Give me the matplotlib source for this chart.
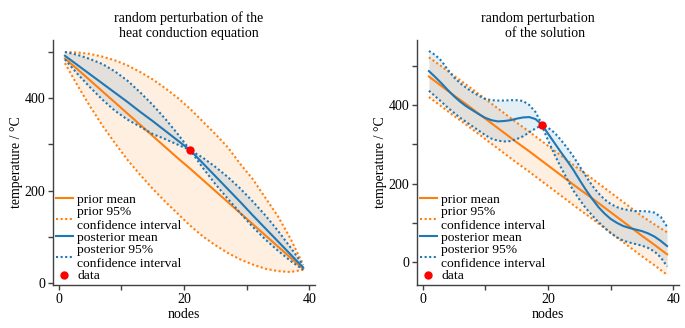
import matplotlib
matplotlib.use("Agg")
import matplotlib.pyplot as plt
from matplotlib.ticker import MultipleLocator

plt.rcParams['font.family'] = ['Liberation Serif', 'DejaVu Serif']
plt.rcParams['font.size'] = 10

nodes = [1, 3, 5, 7, 9, 11, 13, 15, 17, 19, 21, 23, 25, 27, 29, 31, 33, 35, 37, 39]
nodes_all = list(range(1, 40))

# --- random perturbation of the heat conduction equation ---
eq_prior_mean = [485, 462, 438, 414, 390, 366, 342, 318, 294, 270,
                 247, 223, 199, 175, 151, 127, 103, 79, 55, 31]
eq_prior_upper = [499, 498, 495, 489, 481, 470, 456, 440, 421, 400,
                  376, 349, 322, 293, 257, 224, 184, 144, 96, 40]
eq_prior_lower = [475, 427, 382, 340, 302, 266, 234, 204, 176, 150,
                  124, 101, 82, 65, 51, 40, 31, 26, 24, 29]
eq_post_mean = [491, 471, 451, 431, 411, 391, 370, 350, 329, 308,
                287, 259, 231, 203, 175, 146, 118, 90, 62, 34]
eq_post_upper = [499, 493, 484, 473, 457, 437, 412, 385, 355, 322,
                 287, 271, 251, 229, 204, 176, 146, 113, 77, 39]
eq_post_lower = [483, 452, 423, 396, 372, 353, 338, 322, 311, 299,
                 287, 249, 214, 182, 151, 121, 94, 70, 48, 29]
eq_data_x = [21]
eq_data_y = [287]

# --- random perturbation of the solution ---
sol_prior_mean = [472, 448, 424, 401, 377, 353, 329, 305, 282, 258,
                  234, 210, 186, 163, 139, 115, 91, 67, 44, 20]
sol_prior_upper = [521, 498, 474, 451, 427, 403, 379, 355, 332, 308,
                   284, 260, 236, 213, 189, 165, 141, 117, 96, 76]
sol_prior_lower = [420, 396, 372, 349, 325, 301, 277, 253, 230, 206,
                   182, 158, 134, 111, 87, 63, 39, 15, -8, -32]
sol_post_mean = [486, 471, 455, 438, 422, 408, 396, 386, 376, 367,
                 361, 358, 359, 361, 365, 368, 369, 364, 350, 327,
                 304, 281, 259, 236, 210, 185, 162, 141, 124, 110,
                 100, 92, 87, 83, 79, 73, 65, 54, 41]
sol_post_upper = [537, 527, 512, 490, 470, 455, 443, 432, 423, 415,
                  412, 411, 411, 412, 412, 410, 400, 382, 352, 342,
                  330, 312, 292, 270, 245, 220, 196, 176, 160, 148,
                  140, 135, 132, 130, 130, 129, 126, 115, 90]
sol_post_lower = [436, 422, 408, 393, 380, 367, 356, 345, 334, 323,
                  314, 309, 307, 308, 313, 320, 330, 340, 348, 310,
                  275, 243, 213, 183, 160, 138, 120, 103, 88, 74,
                  63, 55, 50, 46, 42, 36, 27, 12, -11]
sol_data_x = [19]
sol_data_y = [350]

ORANGE = '#ff7f0e'
BLUE = '#1f77b4'
DOT = (0, (1, 1.2))

fig = plt.figure(figsize=(6.85, 3.28), dpi=100)
ax1 = fig.add_axes([53 / 685, 43 / 328, 262 / 685, 245 / 328])
ax2 = fig.add_axes([417 / 685, 43 / 328, 262 / 685, 245 / 328])


def draw(ax, xp, pm, pu, pl, xq, qm, qu, ql, dx, dy):
    ax.fill_between(xp, pl, pu, color=ORANGE, alpha=0.12, lw=0)
    ax.fill_between(xq, ql, qu, color=BLUE, alpha=0.12, lw=0)
    ax.plot(xp, pm, color=ORANGE, lw=1.5, label='prior mean')
    ax.plot(xp, pu, color=ORANGE, lw=1.5, ls=DOT,
            label='prior 95%\nconfidence interval')
    ax.plot(xp, pl, color=ORANGE, lw=1.5, ls=DOT)
    ax.plot(xq, qm, color=BLUE, lw=1.5, label='posterior mean')
    ax.plot(xq, qu, color=BLUE, lw=1.5, ls=DOT,
            label='posterior 95%\nconfidence interval')
    ax.plot(xq, ql, color=BLUE, lw=1.5, ls=DOT)
    ax.plot(dx, dy, 'o', color='red', ms=5, ls='none', label='data',
            zorder=5)

    for s in ('top', 'right'):
        ax.spines[s].set_visible(False)
    for s in ('left', 'bottom'):
        ax.spines[s].set_color('0.25')
        ax.spines[s].set_linewidth(1.0)
    ax.xaxis.set_major_locator(MultipleLocator(20))
    ax.xaxis.set_minor_locator(MultipleLocator(10))
    ax.yaxis.set_major_locator(MultipleLocator(200))
    ax.yaxis.set_minor_locator(MultipleLocator(100))
    ax.tick_params(which='both', length=3.5, width=1, color='0.25',
                   labelsize=10, pad=2)
    ax.set_xlabel('nodes', labelpad=1.5)
    ax.set_ylabel('temperature / °C', labelpad=1.5)
    ax.legend(loc='lower left', frameon=False, fontsize=9.7,
              handlelength=1.3, handletextpad=0.3, labelspacing=0.0,
              borderaxespad=0.1, borderpad=0.1)


draw(ax1, nodes, eq_prior_mean, eq_prior_upper, eq_prior_lower,
     nodes, eq_post_mean, eq_post_upper, eq_post_lower,
     eq_data_x, eq_data_y)
draw(ax2, nodes, sol_prior_mean, sol_prior_upper, sol_prior_lower,
     nodes_all, sol_post_mean, sol_post_upper, sol_post_lower,
     sol_data_x, sol_data_y)

ax1.set_xlim(-0.9, 40.9)
ax1.set_ylim(-4, 525)
ax2.set_xlim(-0.9, 40.9)
ax2.set_ylim(-58, 565)

ax1.set_title('random perturbation of the\nheat conduction equation',
              x=0.518, pad=2, fontsize=10)
ax2.set_title('random perturbation\n    of the solution',
              x=0.462, pad=2, fontsize=10)

fig.savefig('out.png', dpi=100)
